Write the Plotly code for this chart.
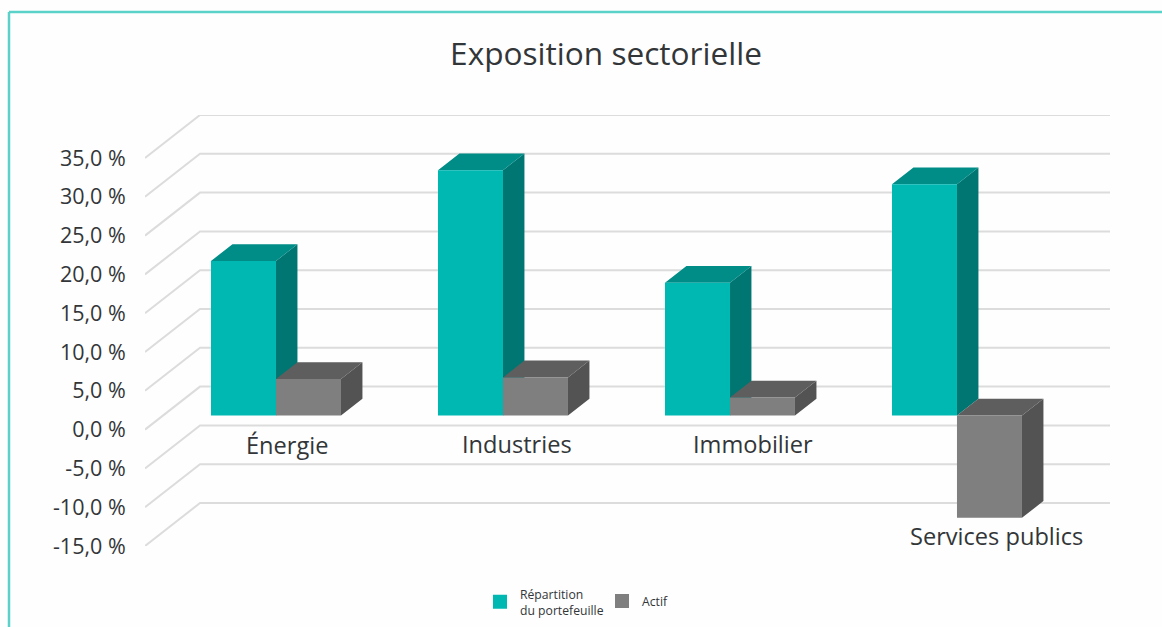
import plotly.graph_objects as go

# ---- data ----
title_text = "Exposition sectorielle"
categories = ["Énergie", "Industries", "Immobilier", "Services publics"]
repartition = [19.9, 31.6, 17.1, 29.8]
actif = [4.7, 4.9, 2.3, -13.2]
tick_values = [-15, -10, -5, 0, 5, 10, 15, 20, 25, 30, 35]
tick_labels = ["-15,0 %", "-10,0 %", "-5,0 %", "0,0 %", "5,0 %", "10,0 %",
               "15,0 %", "20,0 %", "25,0 %", "30,0 %", "35,0 %"]
series_names = ["Répartition<br>du portefeuille", "Actif"]

# ---- layout constants ----
W, H = 1162, 627
L, R, T, B = 145, 52, 115, 81
DEPTH_X = 0.2418   # slots shifted per unit of depth
DEPTH_Y = 5.54     # value units shifted per unit of depth
BAR_W = 0.2857
PITCH = 0.9978     # bar groups sit slightly tighter than the wall width
NUDGE = -0.004
D0, D1 = 0.33, 0.72
FONT = "'Open Sans', 'Noto Sans', sans-serif"
TEXT = "#333638"


def pt(x, v, d):
    return x + d * DEPTH_X, v + d * DEPTH_Y


def poly(points):
    xs, ys = zip(*points)
    return list(xs) + [xs[0], None], list(ys) + [ys[0], None]


def faces(left_offset, values):
    out = {"side": ([], []), "top": ([], []), "front": ([], [])}
    for i, v in enumerate(values):
        x0 = i * PITCH + NUDGE + left_offset
        x1 = x0 + BAR_W
        hi, lo = max(v, 0), min(v, 0)
        shapes = {
            "side": [pt(x1, lo, D0), pt(x1, hi, D0), pt(x1, hi, D1), pt(x1, lo, D1)],
            "top": [pt(x0, hi, D0), pt(x1, hi, D0), pt(x1, hi, D1), pt(x0, hi, D1)],
            "front": [pt(x0, lo, D0), pt(x1, lo, D0), pt(x1, hi, D0), pt(x0, hi, D0)],
        }
        for k, s in shapes.items():
            px, py = poly(s)
            out[k][0].extend(px)
            out[k][1].extend(py)
    return out


def add_faces(fig, name, f, colors):
    for k in ("side", "top", "front"):
        fig.add_trace(go.Scatter(
            x=f[k][0], y=f[k][1], mode="lines", fill="toself",
            fillcolor=colors[k], line=dict(width=0, color=colors[k]),
            hoverinfo="skip", showlegend=False, name=name, cliponaxis=False))


x_lo, x_hi = -0.5, len(categories) - 0.5 + DEPTH_X
fig = go.Figure()

# walls: one line per tick, running from the front edge to the back and across
gx, gy = [], []
for v in tick_values:
    a = pt(x_lo, v, 0)
    b = pt(x_lo, v, 1)
    c = pt(x_hi - DEPTH_X, v, 1)
    gx += [a[0], b[0], c[0], None]
    gy += [a[1], b[1], c[1], None]
fig.add_trace(go.Scatter(x=gx, y=gy, mode="lines", showlegend=False, hoverinfo="skip",
                         cliponaxis=False, line=dict(color="#DCDCDC", width=2)))

add_faces(fig, "teal", faces(-BAR_W, repartition),
          dict(front="#00B8B2", top="#008C87", side="#007672"))
add_faces(fig, "grey", faces(0, actif),
          dict(front="#7F7F7F", top="#5E5E5E", side="#535353"))

# legend entries, one legend each so that each swatch centres on its own text
for name, col, lg in zip(series_names, ["#00B8B2", "#7F7F7F"], ["legend", "legend2"]):
    fig.add_trace(go.Scatter(x=[None], y=[None], mode="markers", name=name, legend=lg,
                             marker=dict(symbol="square", size=14, color=col)))

# category labels
label_shift_x = [11, 13, 21, 37]
label_y_px = [445, 444, 444, 536]
px_per_value = (H - T - B) / (tick_values[-1] + DEPTH_Y - tick_values[0])
zero_px = T + (tick_values[-1] + DEPTH_Y) * px_per_value
for i, c in enumerate(categories):
    fig.add_annotation(x=i + D0 * DEPTH_X, y=(zero_px - label_y_px[i]) / px_per_value,
                       xshift=label_shift_x[i], text=c, showarrow=False,
                       xanchor="center", yanchor="middle",
                       font=dict(family=FONT, size=23.6, color=TEXT))

# frame
plot_w, plot_h = W - L - R, H - T - B
fx = lambda p: (p - L) / plot_w
fy = lambda p: (H - B - p) / plot_h
frame = dict(color="#5AD2CA", width=2.5)
fig.add_shape(type="line", xref="paper", yref="paper", x0=fx(9), x1=fx(9),
              y0=fy(12), y1=fy(H), line=frame, layer="below")
fig.add_shape(type="line", xref="paper", yref="paper", x0=fx(9), x1=fx(W),
              y0=fy(12), y1=fy(12), line=frame, layer="below")

legend_font = dict(family=FONT, size=12.2, color=TEXT)
fig.update_layout(
    width=W, height=H, margin=dict(l=L, r=R, t=T, b=B, pad=0, autoexpand=False),
    paper_bgcolor="#FEFEFE", plot_bgcolor="rgba(0,0,0,0)",
    title=dict(text=title_text, xref="container", yref="container",
               x=606 / W, y=1 - 54 / H, xanchor="center", yanchor="middle",
               font=dict(family=FONT, size=31.6, color=TEXT)),
    xaxis=dict(range=[x_lo, x_hi], visible=False, fixedrange=True),
    yaxis=dict(range=[tick_values[0], tick_values[-1] + DEPTH_Y],
               tickvals=tick_values, ticktext=tick_labels, showgrid=False,
               zeroline=False, showline=False, ticks="outside", ticklen=14,
               tickcolor="rgba(0,0,0,0)", fixedrange=True,
               tickfont=dict(family=FONT, size=21.5, color=TEXT)),
    legend=dict(x=fx(488), y=fy(602), xanchor="left", yanchor="middle",
                font=legend_font, bgcolor="rgba(0,0,0,0)",
                itemwidth=30, indentation=-8),
    legend2=dict(x=fx(610), y=fy(601), xanchor="left", yanchor="middle",
                 font=legend_font, bgcolor="rgba(0,0,0,0)",
                 itemwidth=30, indentation=-8),
    showlegend=True,
)

fig.write_html("out.html", config=dict(displayModeBar=False),
               post_script="document.body.style.margin='0';")
